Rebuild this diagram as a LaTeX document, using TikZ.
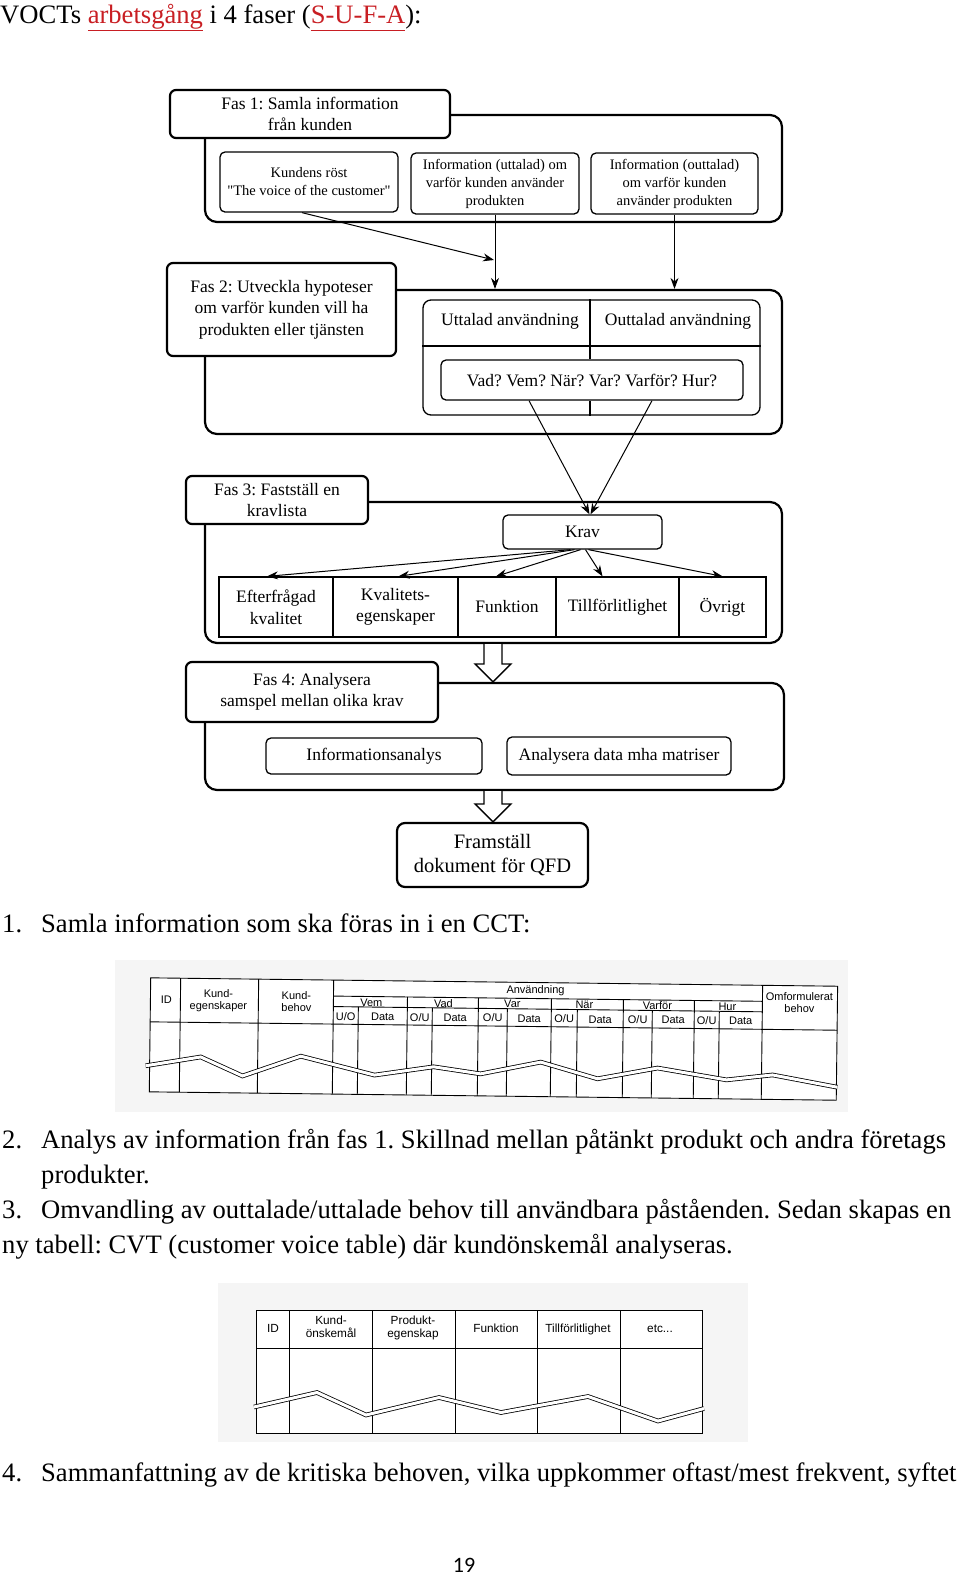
\documentclass[tikz,border=0pt]{standalone}
\usepackage{fontspec}
\setmainfont{Liberation Serif}[Ligatures=TeXOff]
\newfontfamily\tabfont{Liberation Sans}
\newfontfamily\pagefont{Carlito}
\usetikzlibrary{arrows.meta,calc}
\definecolor{linkred}{RGB}{200,30,35}
\newcommand\fasfont{\fontsize{17.5}{21.5}\selectfont}
\newcommand\infofont{\fontsize{14.5}{18}\selectfont}
\newcommand\bigfont{\fontsize{20.5}{24}\selectfont}
\newcommand\bodyfont{\fontsize{26.6}{35}\selectfont}
\newcommand\headfont{\tabfont\fontsize{11}{12}\selectfont}
\newcommand\headfontb{\tabfont\fontsize{11.8}{13}\selectfont}
\newcommand\reflink[1]{\textcolor{linkred}{\underline{#1\vphantom{g}}}}
\frenchspacing
\begin{document}
\begin{tikzpicture}[x=1pt,y=-1pt,
  panel/.style={draw,line width=2.2pt,rounded corners=12pt,inner sep=0pt},
  fasbox/.style={draw,fill=white,line width=2.2pt,rounded corners=6pt,align=center,inner sep=0pt,font=\fasfont},
  infobox/.style={draw,fill=white,line width=1.3pt,rounded corners=5pt,align=center,inner sep=0pt,font=\infofont},
  cell/.style={draw,line width=1.3pt,align=center,inner sep=0pt,minimum height=60pt,font=\fasfont},
  flow/.style={-{Stealth[length=11pt,width=8pt]},line width=1pt},
  hollow/.style={draw,fill=white,line width=1.3pt},
  tab/.style={line width=0.9pt},
  tear/.style={draw=black,double=white,double distance=3pt,line width=0.8pt},
  body/.style={anchor=base west,inner sep=0pt,font=\bodyfont},
  thead/.style={inner sep=0pt,align=center,font=\headfont},
  theadb/.style={inner sep=0pt,align=center,font=\headfontb}]
\useasboundingbox (0,0) rectangle (960,1575);
\node[body] (title) at (0,23) {VOCTs \reflink{arbetsgång} i 4 faser (\reflink{S-U-F-A}):};

\node[panel,minimum width=577pt,minimum height=107pt] (p1) at (493.5,168.5) {};
\node[fasbox,minimum width=280pt,minimum height=48pt] (fas1) at (310,114) {Fas 1: Samla information\\från kunden};
\node[infobox,minimum width=178pt,minimum height=60pt] (kund) at (309,182) {Kundens röst\\"The voice of the customer"};
\node[infobox,minimum width=168pt,minimum height=61pt] (infoU) at (495,183.5) {Information (uttalad) om\\varför kunden använder\\produkten};
\node[infobox,minimum width=167pt,minimum height=61pt] (infoO) at (674.5,183.5) {Information (outtalad)\\om varför kunden\\använder produkten};

\node[panel,minimum width=577pt,minimum height=144pt] (p2) at (493.5,362) {};
\node[fasbox,minimum width=229pt,minimum height=93pt] (fas2) at (281.5,309.5) {Fas 2: Utveckla hypoteser\\om varför kunden vill ha\\produkten eller tjänsten};
\coordinate (merge) at (494,260);
\draw[flow] ([xshift=-7pt]kund.south) -- (merge);
\draw[flow] (infoU.south) -- (infoU.south |- p2.north);
\draw[flow] (infoO.south) -- (infoO.south |- p2.north);
\node[draw,line width=1.3pt,rounded corners=8pt,minimum width=337pt,minimum height=115pt,inner sep=0pt] (usebox) at (591.5,357.5) {};
\coordinate (hdr) at (0,346);
\coordinate (split) at (590,0);
\draw[line width=1.3pt] (usebox.west |- hdr) -- (usebox.east |- hdr);
\node[font=\fasfont] (uttal) at (510,321) {Uttalad användning};
\node[font=\fasfont] (outtal) at (678,321) {Outtalad användning};
\node[infobox,font=\fasfont,minimum width=302pt,minimum height=40pt] (vad) at (592,380) {Vad? Vem? När? Var? Varför? Hur?};
\draw[line width=1.3pt] (split |- usebox.north) -- (split |- vad.north) (split |- vad.south) -- (split |- usebox.south);

\node[panel,minimum width=577pt,minimum height=141pt] (p3) at (493.5,572.5) {};
\node[fasbox,minimum width=182pt,minimum height=48pt] (fas3) at (277,500) {Fas 3: Fastställ en\\kravlista};
\node[infobox,font=\fasfont,minimum width=159pt,minimum height=34pt] (krav) at (582.5,532) {Krav};
\draw[flow] ([xshift=-63pt]vad.south) -- ([xshift=7pt]krav.north);
\draw[flow] ([xshift=60pt]vad.south) -- ([xshift=8pt]krav.north);
\node[cell,minimum width=114pt] (c1) at (276,607) {Efterfrågad\\kvalitet};
\node[cell,minimum width=125pt] (c2) at (395.5,607) {Kvalitets-\\egenskaper};
\node[cell,minimum width=98pt] (c3) at (507,607) {Funktion};
\node[cell,minimum width=123pt] (c4) at (617.5,607) {Tillförlitlighet};
\node[cell,minimum width=87pt] (c5) at (722.5,607) {Övrigt};
\draw[flow] ([xshift=-12pt]krav.south) -- ([xshift=-9pt]c1.north);
\draw[flow] ([xshift=-8pt]krav.south) -- ([xshift=3pt]c2.north);
\draw[flow] ([xshift=-2pt]krav.south) -- ([xshift=-11pt]c3.north);
\draw[flow] ([xshift=3pt]krav.south) -- ([xshift=-15pt]c4.north);
\draw[flow] ([xshift=6pt]krav.south) -- (c5.north);

\node[panel,minimum width=579pt,minimum height=107pt] (p4) at (494.5,736.5) {};
\node[fasbox,minimum width=252pt,minimum height=60pt] (fas4) at (312,692) {Fas 4: Analysera\\samspel mellan olika krav};
\node[infobox,font=\fasfont,minimum width=216pt,minimum height=36pt] (infoana) at (374,756) {Informationsanalys};
\node[infobox,font=\fasfont,minimum width=224pt,minimum height=38pt] (matris) at (619,756) {Analysera data mha matriser};
\node[fasbox,font=\bigfont,rounded corners=8pt,minimum width=191pt,minimum height=64pt] (fram) at (492.5,855) {Framställ\\dokument för QFD};
\coordinate (drop) at (493,0);
\draw[hollow] ($(drop |- p3.south)+(-9,0)$) -- ($(drop |- p4.north)+(-9,-18)$) -- ++(-9,0) -- (drop |- p4.north) -- ++(18,-18) -- ++(-9,0) -- ($(drop |- p3.south)+(9,0)$);
\draw[hollow] ($(drop |- p4.south)+(-9,0)$) -- ($(drop |- fram.north)+(-9,-18)$) -- ++(-9,0) -- (drop |- fram.north) -- ++(18,-18) -- ++(-9,0) -- ($(drop |- p4.south)+(9,0)$);

\node[body] (n1) at (2,932) {1.};
\node[body] (t1) at (41,932) {Samla information som ska föras in i en CCT:};

\fill[black!4] (115,960) rectangle (848,1112);
\begin{scope}[rotate around={-0.7:(492,1036)}]
\fill[white] (150,982) rectangle (837,1096);
\draw[tab] (150,982) rectangle (837,1096);
\draw[tab] (150,1026) -- (837,1026);
\foreach \x in {180,258,333,762} \draw[tab] (\x,982) -- (\x,1096);
\draw[tab] (333,998) -- (762,998);
\draw[tab] (333,1008.5) -- (762,1008.5);
\foreach \x in {407,478,551,623,694} \draw[tab] (\x,998) -- (\x,1096);
\foreach \x in {358,432,507,577,652,719} \draw[tab] (\x,1008.5) -- (\x,1096);
\node[thead] (hid) at (166,1004) {ID};
\node[thead] (hkeg) at (218,1003.5) {Kund-\\egenskaper};
\node[thead] (hkbe) at (296,1003.5) {Kund-\\behov};
\node[thead] (hanv) at (535,990) {Användning};
\node[thead] (hvem) at (371,1004) {Vem};
\node[thead] (hvad) at (443,1004) {Vad};
\node[thead] (hvar) at (512,1004) {Var};
\node[thead] (hnar) at (584,1004) {När};
\node[thead] (hvarf) at (657,1004) {Varför};
\node[thead] (hhur) at (727,1004) {Hur};
\foreach \a/\b/\l in {333/358/U\slash O,407/432/O\slash U,478/507/O\slash U,551/577/O\slash U,623/652/O\slash U,694/719/O\slash U} {
  \node[thead] at ({(\a+\b)/2},1018) {\l};
}
\foreach \a/\b in {358/407,432/478,507/551,577/623,652/694,719/762} {
  \node[thead] at ({(\a+\b)/2},1018) {Data};
}
\node[thead] (homf) at (799,999) {Omformulerat\\behov};
\draw[tear] (146,1070) -- (201,1060.5) -- (243,1079) -- (301,1058.5) -- (375,1076.5) -- (434,1067.5) -- (481,1074) -- (541,1061.5) -- (598,1077.5) -- (658,1066) -- (727,1077) -- (773,1071.5) -- (838,1083);
\end{scope}

\node[body] (n2) at (2,1148) {2.};
\node[body] (t2) at (41,1148) {Analys av information från fas 1. Skillnad mellan påtänkt produkt och andra företags};
\node[body] (t2b) at (41,1183) {produkter.};
\node[body] (n3) at (2,1218) {3.};
\node[body] (t3) at (41,1218) {Omvandling av outtalade/uttalade behov till användbara påståenden. Sedan skapas en};
\node[body] (t3b) at (2,1253) {ny tabell: CVT (customer voice table) där kundönskemål analyseras.};

\fill[black!4] (218,1283) rectangle (748,1442);
\fill[white] (256,1310) rectangle (702,1433);
\draw[tab] (256,1310) rectangle (702,1433);
\draw[tab] (256,1348) -- (702,1348);
\foreach \x in {289,372,455,537,620} \draw[tab] (\x,1310) -- (\x,1433);
\node[theadb] (kid) at (273,1328) {ID};
\node[theadb] (konsk) at (331,1327) {Kund-\\önskemål};
\node[theadb] (kprod) at (413,1328) {Produkt-\\egenskap};
\node[theadb] (kfunk) at (496,1328) {Funktion};
\node[theadb] (ktill) at (578,1329) {Tillförlitlighet};
\node[theadb] (ketc) at (660,1329) {etc...};
\draw[tear] (254,1407) -- (317,1392.5) -- (366,1415) -- (439,1397.5) -- (501,1412.5) -- (588,1396.5) -- (658,1421) -- (704,1408.5);

\node[body] (n4) at (2,1481) {4.};
\node[body] (t4) at (41,1481) {Sammanfattning av de kritiska behoven, vilka uppkommer oftast/mest frekvent, syftet};
\node[anchor=base,inner sep=0pt,font=\pagefont\fontsize{22}{22}\selectfont] (page) at (464,1572) {19};
\end{tikzpicture}
\end{document}
